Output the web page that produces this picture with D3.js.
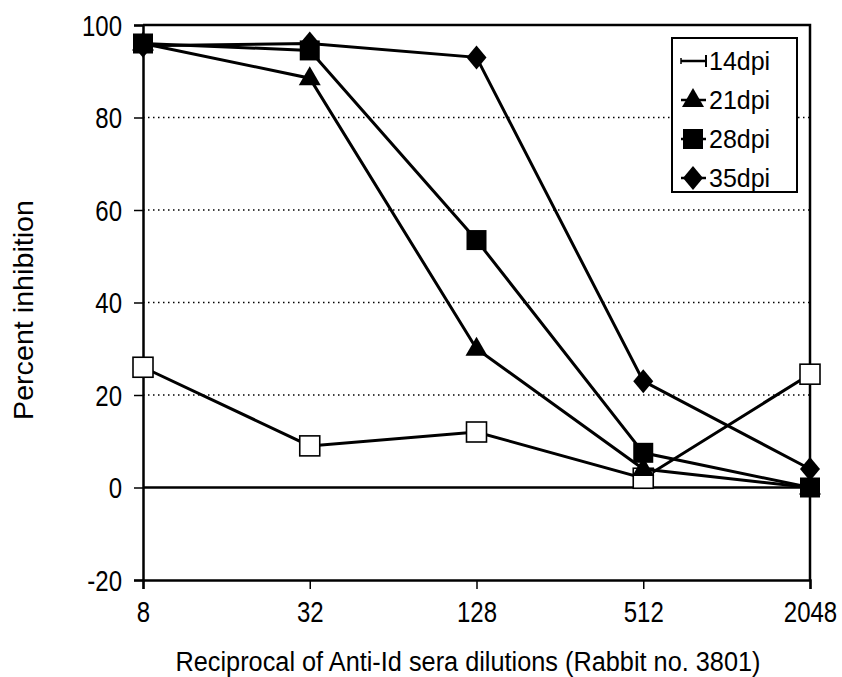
<!DOCTYPE html>
<html>
<head>
<meta charset="utf-8">
<script src="https://cdn.jsdelivr.net/npm/d3@7"></script>
<style>
  body { margin: 0; background: #fff; }
  text { font-family: "Liberation Sans", Arial, sans-serif; fill: #000; }
</style>
</head>
<body>
<div id="vis"></div>
<script>
const FRAME_WIDTH = 842;
const FRAME_HEIGHT = 677;
const MARGINS = {left: 143, right: 32, top: 25, bottom: 97};

const VIS_WIDTH = FRAME_WIDTH - MARGINS.left - MARGINS.right;
const VIS_HEIGHT = FRAME_HEIGHT - MARGINS.top - MARGINS.bottom;

// data
const dilutions = [8, 32, 128, 512, 2048];
const yTicks = [-20, 0, 20, 40, 60, 80, 100];
const dpi14 = [26, 9, 12, 2, 24.5];
const dpi21 = [96, 88.5, 30, 4, 0];
const dpi28 = [96, 94.5, 53.5, 7.5, 0];
const dpi35 = [95.5, 96, 93, 23, 4];

const series = [
  {name: "14dpi", values: dpi14, marker: "open"},
  {name: "21dpi", values: dpi21, marker: "triangle"},
  {name: "28dpi", values: dpi28, marker: "square"},
  {name: "35dpi", values: dpi35, marker: "diamond"}
];

const FRAME = d3.select("#vis")
  .append("svg")
    .attr("width", FRAME_WIDTH)
    .attr("height", FRAME_HEIGHT);

const X_SCALE = d3.scaleLog().base(2)
  .domain([8, 2048])
  .range([MARGINS.left, MARGINS.left + VIS_WIDTH]);

const Y_SCALE = d3.scaleLinear()
  .domain([-20, 100])
  .range([MARGINS.top + VIS_HEIGHT, MARGINS.top]);

// dotted gridlines
FRAME.selectAll(".grid")
  .data([20, 40, 60, 80])
  .enter()
  .append("line")
    .attr("x1", X_SCALE(8))
    .attr("x2", X_SCALE(2048))
    .attr("y1", d => Y_SCALE(d))
    .attr("y2", d => Y_SCALE(d))
    .attr("stroke", "#000")
    .attr("stroke-width", 1.5)
    .attr("stroke-dasharray", "1.5,3.5");

// zero line
FRAME.append("line")
  .attr("x1", X_SCALE(8)).attr("x2", X_SCALE(2048))
  .attr("y1", Y_SCALE(0)).attr("y2", Y_SCALE(0))
  .attr("stroke", "#000").attr("stroke-width", 2.5);

// plot frame (top + right)
FRAME.append("path")
  .attr("d", `M${X_SCALE(8)},${Y_SCALE(100)}H${X_SCALE(2048)}V${Y_SCALE(-20)}`)
  .attr("fill", "none").attr("stroke", "#000").attr("stroke-width", 2.5);

// axes
const yAxis = FRAME.append("g")
  .attr("transform", "translate(" + MARGINS.left + ",0)")
  .call(d3.axisLeft(Y_SCALE).tickValues(yTicks).tickSize(9)
        .tickFormat(d => d));
const xAxis = FRAME.append("g")
  .attr("transform", "translate(0," + (MARGINS.top + VIS_HEIGHT) + ")")
  .call(d3.axisBottom(X_SCALE).tickValues(dilutions).tickSize(9)
        .tickFormat(d => d));

[yAxis, xAxis].forEach(ax => {
  ax.select(".domain").attr("stroke-width", 2.5);
  ax.selectAll(".tick line").attr("stroke-width", 1.5);
  ax.selectAll("text")
    .attr("font-size", 24)
    .attr("font-family", "Liberation Sans, Arial, sans-serif")
    .attr("x", 0).attr("y", 0).attr("dy", 0);
});
// the scanned labels are a bit taller than they are wide
yAxis.selectAll(".tick text").attr("transform", "translate(-21,10) scale(1,1.25)");
xAxis.selectAll(".tick text").attr("transform", "translate(0,42) scale(1,1.25)");

// axis titles
FRAME.append("text")
  .attr("x", 468).attr("y", 671)
  .attr("text-anchor", "middle")
  .attr("font-size", 27)
  .attr("textLength", 585).attr("lengthAdjust", "spacingAndGlyphs")
  .text("Reciprocal of Anti-Id sera dilutions (Rabbit no. 3801)");

FRAME.append("text")
  .attr("transform", "translate(33,310) rotate(-90)")
  .attr("text-anchor", "middle")
  .attr("font-size", 28)
  .attr("textLength", 220).attr("lengthAdjust", "spacingAndGlyphs")
  .text("Percent inhibition");

// marker drawing
function drawMarker(g, type, x, y) {
  if (type === "open") {
    g.append("rect").attr("x", x - 10).attr("y", y - 10)
      .attr("width", 20).attr("height", 20)
      .attr("fill", "#fff").attr("stroke", "#000").attr("stroke-width", 1.6);
  } else if (type === "square") {
    g.append("rect").attr("x", x - 10).attr("y", y - 10)
      .attr("width", 20).attr("height", 20).attr("fill", "#000");
  } else if (type === "triangle") {
    g.append("path").attr("d", `M${x},${y - 12}L${x + 11},${y + 7}L${x - 11},${y + 7}Z`)
      .attr("fill", "#000");
  } else if (type === "diamond") {
    g.append("path").attr("d", `M${x},${y - 12}L${x + 10},${y}L${x},${y + 12}L${x - 10},${y}Z`)
      .attr("fill", "#000");
  }
}

const line = d3.line()
  .x(d => X_SCALE(d[0]))
  .y(d => Y_SCALE(d[1]));

series.forEach(s => {
  const pts = dilutions.map((d, i) => [d, s.values[i]]);
  const g = FRAME.append("g").attr("class", "series");
  g.append("path")
    .datum(pts)
    .attr("d", line)
    .attr("fill", "none")
    .attr("stroke", "#000")
    .attr("stroke-width", 3);
  pts.forEach(p => drawMarker(g, s.marker, X_SCALE(p[0]), Y_SCALE(p[1])));
});

// legend
const LEG = FRAME.append("g");
LEG.append("rect")
  .attr("x", 672).attr("y", 38).attr("width", 125).attr("height", 154)
  .attr("fill", "#fff").attr("stroke", "#000").attr("stroke-width", 2);

series.forEach((s, i) => {
  const cy = 61 + i * 39;
  const lg = LEG.append("g");
  lg.append("line").attr("x1", 681).attr("x2", 706).attr("y1", cy).attr("y2", cy)
    .attr("stroke", "#000").attr("stroke-width", 2.5);
  if (s.marker === "open") {
    lg.append("line").attr("x1", 706).attr("x2", 706).attr("y1", cy - 6).attr("y2", cy + 6)
      .attr("stroke", "#000").attr("stroke-width", 2);
    lg.append("line").attr("x1", 681).attr("x2", 681).attr("y1", cy - 3).attr("y2", cy + 3)
      .attr("stroke", "#000").attr("stroke-width", 1.5);
  } else {
    drawMarker(lg, s.marker, 693, cy);
  }
  lg.append("text").attr("x", 709).attr("y", cy + 9)
    .attr("font-size", 25).text(s.name);
});
</script>
</body>
</html>
